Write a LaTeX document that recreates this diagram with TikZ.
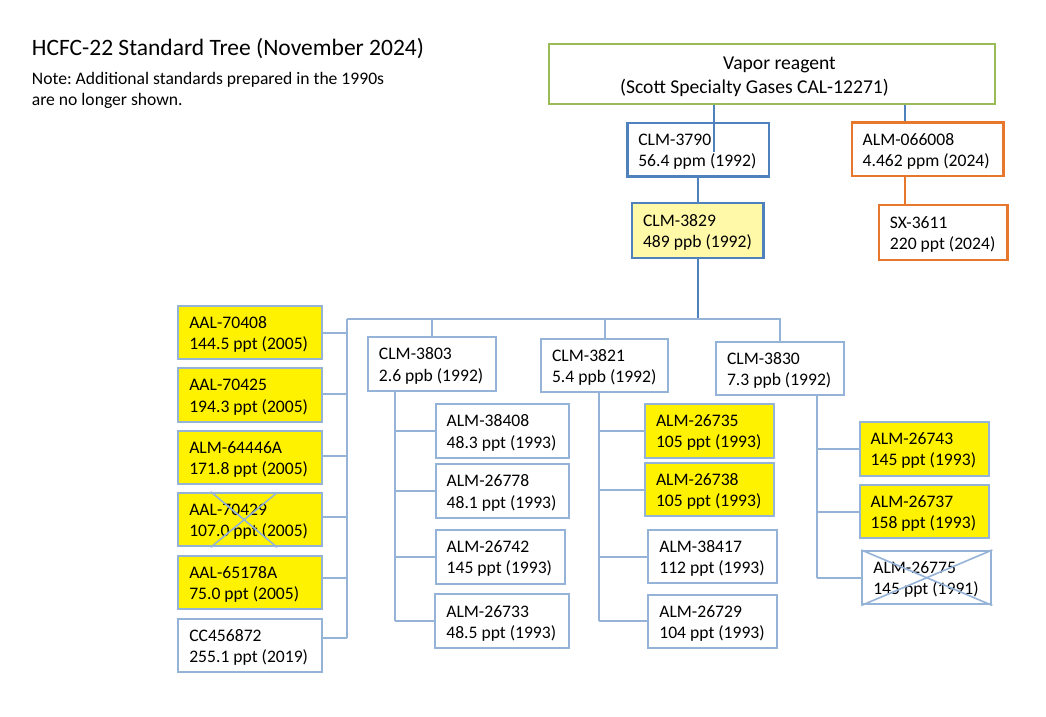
\documentclass[tikz,border=0pt]{standalone}
\usepackage{fontspec}
\setmainfont{Carlito}
\usetikzlibrary{calc}

\definecolor{lineblue}{HTML}{95B3D7}
\definecolor{darkblue}{HTML}{4F81BD}
\definecolor{orangeline}{HTML}{E8772E}
\definecolor{greenline}{HTML}{9BBB59}
\definecolor{paleyellow}{HTML}{FFF9A8}

\newcommand{\boxfont}{\fontsize{17.6}{21.3}\selectfont}

\tikzset{
	stdbox/.style={draw=lineblue, line width=2pt, fill=white, rectangle, minimum height=53.5pt, inner xsep=11pt, inner ysep=0pt, text width=#1, align=flush left, text height=12pt, text depth=20.4pt, font=\boxfont},
	stdbox/.default=107pt,
	hot/.style={fill=yellow},
	link/.style={draw=lineblue, line width=2pt},
}

\newcommand{\leftlink}[2]{
	\draw[link] ([yshift=#2]#1.east) -- ([yshift=#2]#1.east -| bar);
}

\frenchspacing
\begin{document}
\begin{tikzpicture}[x=1pt,y=-1pt]
\useasboundingbox (0,0) rectangle (1046,716);

\node[anchor=base west, inner sep=0pt, font=\fontsize{23.5}{28}\selectfont] (title) at (31.7,55.7) {HCFC-22 Standard Tree (November 2024)};
\node[anchor=base west, inner sep=0pt, text width=400pt, align=flush left, font=\boxfont] (note) at (31.7,84) {Note: Additional standards prepared in the 1990s\\are no longer shown.};

\node[stdbox=423.7pt, draw=greenline, align=flush center, minimum height=60pt, font=\fontsize{19.6}{24.3}\selectfont, text height=13pt, text depth=23pt] (vapor) at (772.2,74) {\hspace*{14.6pt}Vapor reagent\\\hspace*{-35.4pt}(Scott Specialty Gases CAL-12271)};

\node[stdbox=119.4pt, draw=darkblue, line width=2.4pt] (clm3790) at (698,149.7) {CLM-3790\\56.4~ppm~(1992)};
\node[stdbox=109.3pt, draw=darkblue, line width=2.4pt, fill=paleyellow, minimum height=55pt] (clm3829) at (697.7,230.5) {CLM-3829\\489~ppb~(1992)};
\node[stdbox=129.6pt, draw=orangeline, line width=2.4pt] (alm066008) at (927.5,149.3) {ALM-066008\\4.462~ppm~(2024)};
\node[stdbox=106.7pt, draw=orangeline, line width=2.4pt, minimum height=55pt] (sx3611) at (943.3,232.5) {SX-3611\\220~ppt~(2024)};

\node[stdbox=121.4pt, hot] (aal70408) at (250,332.5) {AAL-70408\\144.5~ppt~(2005)};
\node[stdbox=121.4pt, hot] (aal70425) at (250,395) {AAL-70425\\194.3~ppt~(2005)};
\node[stdbox=121.4pt, hot] (alm64446a) at (250,457.3) {ALM-64446A\\171.8~ppt~(2005)};
\node[stdbox=121.4pt, hot] (aal70429) at (250,519.5) {AAL-70429\\107.0~ppt~(2005)};
\node[stdbox=121.4pt, hot] (aal65178a) at (250,582.3) {AAL-65178A\\75.0~ppt~(2005)};
\node[stdbox=121.4pt] (cc456872) at (250,645.3) {CC456872\\255.1~ppt~(2019)};

\node[stdbox=105.7pt] (clm3803) at (431.8,364) {CLM-3803\\2.6~ppb~(1992)};
\node[stdbox=105.3pt] (clm3821) at (604.7,365.7) {CLM-3821\\5.4~ppb~(1992)};
\node[stdbox=106pt] (clm3830) at (780,368.5) {CLM-3830\\7.3~ppb~(1992)};

\node[stdbox=111.3pt] (alm38408) at (502.3,431) {ALM-38408\\48.3~ppt~(1993)};
\node[stdbox=111.3pt] (alm26778) at (502.3,491) {ALM-26778\\48.1~ppt~(1993)};
\node[stdbox=107pt] (alm26742) at (500.2,556.8) {ALM-26742\\145~ppt~(1993)};
\node[stdbox=111.7pt] (alm26733) at (502.2,621.2) {ALM-26733\\48.5~ppt~(1993)};

\node[stdbox=107pt, hot] (alm26735) at (709.5,430.8) {ALM-26735\\105~ppt~(1993)};
\node[stdbox=107pt, hot] (alm26738) at (709.5,489.5) {ALM-26738\\105~ppt~(1993)};
\node[stdbox=106.7pt] (alm38417) at (712.7,556.7) {ALM-38417\\112~ppt~(1993)};
\node[stdbox=106.7pt] (alm26729) at (712.7,621.3) {ALM-26729\\104~ppt~(1993)};

\node[stdbox=107pt, hot] (alm26743) at (924.2,448.8) {ALM-26743\\145~ppt~(1993)};
\node[stdbox=107pt, hot] (alm26737) at (924.2,511.5) {ALM-26737\\158~ppt~(1993)};
\node[stdbox=107pt] (alm26775) at (926.8,577.7) {ALM-26775\\145~ppt~(1991)};

\draw[link, line width=1.6pt] ($(aal70429.north west)+(33.4,0)$) -- ($(aal70429.south east)+(-45.7,0)$);
\draw[link, line width=1.6pt] ($(aal70429.north east)+(-45.7,1)$) -- ($(aal70429.south west)+(33.4,0)$);
\draw[link, line width=1.6pt] (alm26775.north west) -- (alm26775.south east);
\draw[link, line width=1.6pt] (alm26775.north east) -- (alm26775.south west);

\coordinate (bar) at (347,319);
\coordinate (tapA) at (714,152);
\coordinate (tapB) at (905,0);
\coordinate (trA) at ([xshift=27.7pt]clm3803.south west);
\coordinate (trB) at ([xshift=59pt]clm3821.south west);
\coordinate (trC) at ([xshift=101.7pt]clm3830.south west);

\draw[link, draw=darkblue] (vapor.south -| tapA) -- (tapA);
\draw[link, draw=darkblue] (vapor.south -| tapB) -- (alm066008.north -| tapB);
\draw[link, draw=orangeline] (alm066008.south -| tapB) -- (sx3611.north -| tapB);
\draw[link, draw=darkblue] (clm3790.south -| clm3829.north) -- (clm3829.north);
\draw[link, draw=darkblue] (clm3829.south) -- (clm3829.south |- bar);

\draw[link] (bar) -| (clm3830.north);
\draw[link] (clm3803.north) -- (clm3803.north |- bar);
\draw[link] (clm3821.north) -- (clm3821.north |- bar);
\draw[link] (bar) -- ([yshift=7pt]cc456872.east -| bar);

\leftlink{aal70408}{0pt}
\leftlink{aal70425}{1pt}
\leftlink{alm64446a}{1.6pt}
\leftlink{aal70429}{2.2pt}
\leftlink{aal65178a}{4.6pt}
\leftlink{cc456872}{7pt}

\draw[link] (trA) -- (trA |- alm26733.west);
\draw[link] (alm38408.west) -- (alm38408.west -| trA);
\draw[link] (alm26778.west) -- (alm26778.west -| trA);
\draw[link] (alm26742.west) -- (alm26742.west -| trA);
\draw[link] (alm26733.west) -- (alm26733.west -| trA);

\draw[link] (trB) -- (trB |- alm26729.west);
\draw[link] (alm26735.west) -- (alm26735.west -| trB);
\draw[link] (alm26738.west) -- (alm26738.west -| trB);
\draw[link] (alm38417.west) -- (alm38417.west -| trB);
\draw[link] (alm26729.west) -- (alm26729.west -| trB);

\draw[link] (trC) -- (trC |- alm26775.west);
\draw[link] (alm26743.west) -- (alm26743.west -| trC);
\draw[link] (alm26737.west) -- (alm26737.west -| trC);
\draw[link] (alm26775.west) -- (alm26775.west -| trC);
\end{tikzpicture}
\end{document}
